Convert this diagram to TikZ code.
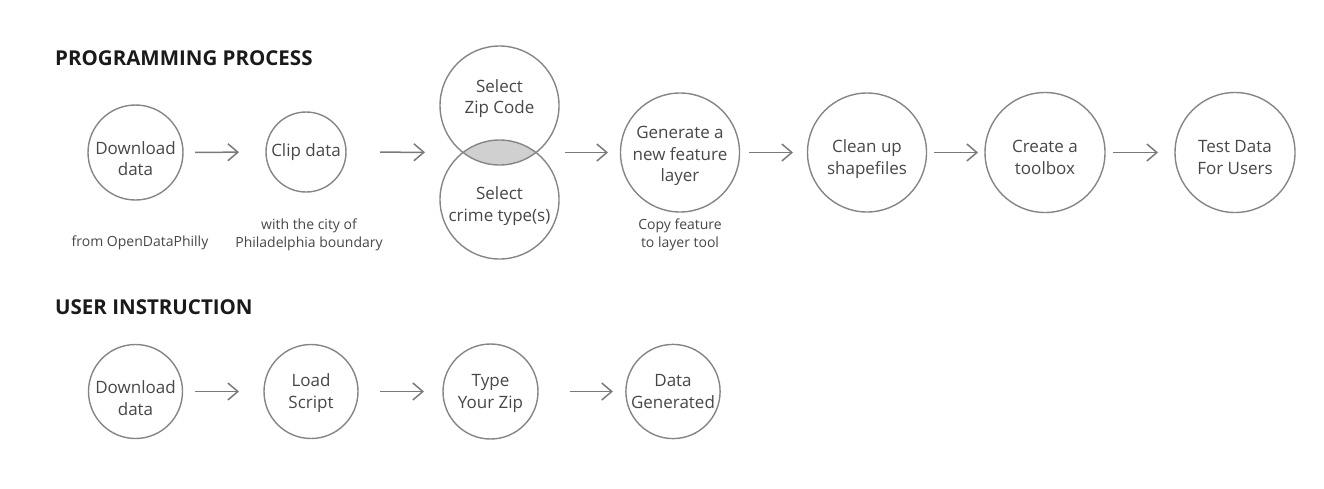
\documentclass[tikz,border=0pt]{standalone}
\usepackage{fontspec}
\setmainfont{Open Sans}
\usepackage{tikz}
\usetikzlibrary{positioning,arrows.meta,backgrounds}

\definecolor{inkgray}{HTML}{474747}
\definecolor{rimgray}{HTML}{858585}
\definecolor{flowgray}{HTML}{7A7A7A}
\definecolor{lensgray}{HTML}{D0D0D0}
\definecolor{headgray}{HTML}{1A1A1A}

% text inside a circle, lifted or lowered by #1
\newcommand{\ctext}[2][-1.6pt]{\raisebox{#1}[\height][\depth]{\begin{tabular}{@{}c@{}}#2\end{tabular}}}

\tikzset{
  stage/.style={circle, draw=rimgray, line width=1.4pt, inner sep=0pt, outer sep=0pt,
    minimum size=#1, text=inkgray, font=\fontsize{17}{21.5}\selectfont},
  flow/.style={draw=flowgray, line width=1.5pt, -{Straight Barb[length=10pt,width=17pt]}},
  note/.style={text=inkgray, align=center, inner sep=0pt, font=\fontsize{14}{17.5}\selectfont},
  heading/.style={anchor=west, inner sep=0pt, text=headgray, font=\bfseries\fontsize{20.5}{24}\selectfont},
}

\begin{document}
\begin{tikzpicture}[x=1pt,y=-1pt]
\useasboundingbox (0,0) rectangle (1324,488);

% headings
\node[heading] (prog) at (55,58) {PROGRAMMING PROCESS};
\node[heading] (user) at (55,307) {USER INSTRUCTION};

% programming process
\node[stage=95pt] (dl) at (135.5,152.5) {\ctext[-8pt]{Download\\data}};
\node[stage=80pt] (clip) at (306,152) {\ctext[0pt]{Clip data}};
\node[stage=119pt] (zip) at (499.5,105.5) {\ctext[7pt]{Select\\Zip Code}};
\node[stage=119pt] (crime) at (499.5,199.5) {\ctext[-6.6pt]{Select\\crime type(s)}};
\coordinate (pick) at (499.5,152.5);
\node[stage=119pt] (gen) at (680,152.5) {\ctext[-3.6pt]{Generate a\\new feature\\layer}};
\node[stage=119pt] (clean) at (867,152.5) {\ctext[-6.6pt]{Clean up\\shapefiles}};
\node[stage=120pt] (create) at (1045,152.5) {\ctext[-6.6pt]{Create a\\toolbox}};
\node[stage=120pt] (test) at (1235,152.5) {\ctext[-6.6pt]{Test Data\\For Users}};

\begin{scope}[on background layer]
\clip (zip.center) circle[radius=59.5];
\fill[lensgray] (crime.center) circle[radius=59.5];
\end{scope}

\node[note] (dl-src) at (140,243) {from OpenDataPhilly};
\node[note] (clip-src) at (309,235) {with the city of\\Philadelphia boundary};
\node[note] (gen-src) at (680,235) {Copy feature\\to layer tool};

\draw[flow, shorten <=12pt, shorten >=27pt] (dl) -- (clip);
\draw[flow, shorten <=34pt, shorten >=74.5pt] (clip) -- (pick);
\draw[flow, shorten <=65.5pt, shorten >=12.5pt] (pick) -- (gen);
\draw[flow, shorten <=9.5pt, shorten >=14.5pt] (gen) -- (clean);
\draw[flow, shorten <=7.5pt, shorten >=7pt] (clean) -- (create);
\draw[flow, shorten <=8pt, shorten >=17pt] (create) -- (test);

% user instruction
\node[stage=94pt] (dl2) at (135.5,391.5) {\ctext[-8.6pt]{Download\\data}};
\node[stage=94pt] (load) at (311,391.5) {\ctext{Load\\Script}};
\node[stage=95pt] (type) at (490.5,391.5) {\ctext{Type\\Your Zip}};
\node[stage=94pt] (made) at (673,391.5) {\ctext{Data\\Generated}};

\draw[flow, shorten <=12pt, shorten >=25pt] (dl2) -- (load);
\draw[flow, shorten <=22pt, shorten >=19pt] (load) -- (type);
\draw[flow, shorten <=32pt, shorten >=13pt] (type) -- (made);
\end{tikzpicture}
\end{document}
